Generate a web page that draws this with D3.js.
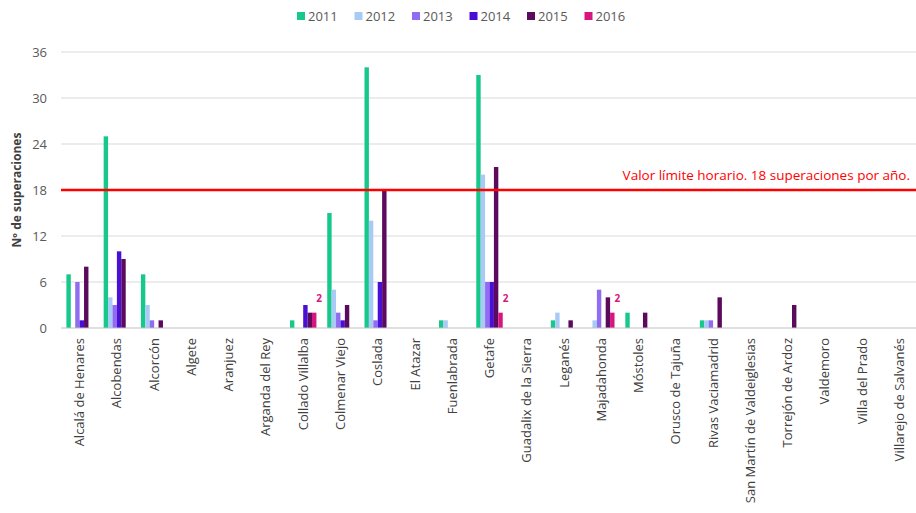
<!DOCTYPE html>
<html lang="es">
<head>
    <meta charset="UTF-8">
    <title>Superaciones valor límite horario</title>
    <script src="https://cdnjs.cloudflare.com/ajax/libs/d3/7.8.5/d3.min.js"></script>
    <style>
    html, body {
        margin: 0;
        background: #fff;
    }
    text {
        font-family: "Open Sans", sans-serif;
    }
    </style>
</head>
<body>
    <div id="chart"></div>
    <script>
    // municipalities on the x axis
    var municipios = ['Alcalá de Henares', 'Alcobendas', 'Alcorcón', 'Algete', 'Aranjuez',
        'Arganda del Rey', 'Collado Villalba', 'Colmenar Viejo', 'Coslada', 'El Atazar',
        'Fuenlabrada', 'Getafe', 'Guadalix de la Sierra', 'Leganés', 'Majadahonda',
        'Móstoles', 'Orusco de Tajuña', 'Rivas Vaciamadrid', 'San Martín de Valdeiglesias',
        'Torrejón de Ardoz', 'Valdemoro', 'Villa del Prado', 'Villarejo de Salvanés'];

    var years = ['2011', '2012', '2013', '2014', '2015', '2016'];
    var colors = ['#16c98a', '#a9c9f6', '#8f6cf2', '#4a0fd4', '#5b0a5e', '#d6157f'];

    // hourly exceedances per year, same order as municipios
    var v2011 = [7, 25, 7, 0, 0, 0, 1, 15, 34, 0, 1, 33, 0, 1, 0, 2, 0, 1, 0, 0, 0, 0, 0];
    var v2012 = [0, 4, 3, 0, 0, 0, 0, 5, 14, 0, 1, 20, 0, 2, 1, 0, 0, 1, 0, 0, 0, 0, 0];
    var v2013 = [6, 3, 1, 0, 0, 0, 0, 2, 1, 0, 0, 6, 0, 0, 5, 0, 0, 1, 0, 0, 0, 0, 0];
    var v2014 = [1, 10, 0, 0, 0, 0, 3, 1, 6, 0, 0, 6, 0, 0, 0, 0, 0, 0, 0, 0, 0, 0, 0];
    var v2015 = [8, 9, 1, 0, 0, 0, 2, 3, 18, 0, 0, 21, 0, 1, 4, 2, 0, 4, 0, 3, 0, 0, 0];
    var v2016 = [0, 0, 0, 0, 0, 0, 2, 0, 0, 0, 0, 2, 0, 0, 2, 0, 0, 0, 0, 0, 0, 0, 0];
    var series = [v2011, v2012, v2013, v2014, v2015, v2016];

    var yTicks = [0, 6, 12, 18, 24, 30, 36];
    var limite = 18;
    var limiteLabel = 'Valor límite horario. 18 superaciones por año.';

    var width = 916, height = 513;
    var margin = { top: 52, right: -2, bottom: 185, left: 61 };

    var svg = d3.select('#chart')
        .append('svg')
            .attr('width', width)
            .attr('height', height);

    var innerW = width - margin.left - margin.right;
    var innerH = height - margin.top - margin.bottom;

    var g = svg.append('g')
        .attr('transform', 'translate(' + margin.left + ',' + margin.top + ')');

    var x0 = d3.scaleBand()
        .domain(municipios)
        .range([0, innerW])
        .paddingInner(0.29)
        .paddingOuter(0.145);

    var x1 = d3.scaleBand()
        .domain(years)
        .range([0, x0.bandwidth()]);

    var y = d3.scaleLinear()
        .domain([0, 36])
        .range([innerH, 0]);

    // gridlines
    g.selectAll('.grid')
        .data(yTicks.slice(1))
        .enter()
        .append('line')
        .attr('class', 'grid')
        .attr('x1', 0)
        .attr('x2', width - margin.left)
        .attr('y1', function(d){ return y(d); })
        .attr('y2', function(d){ return y(d); })
        .attr('stroke', '#d9d9d9')
        .attr('stroke-width', 1);

    // y axis labels
    var yAxis = d3.axisLeft(y)
        .tickValues(yTicks)
        .tickSize(0)
        .tickPadding(14);

    g.append('g')
        .call(yAxis)
        .call(function(s){ s.select('.domain').remove(); })
        .selectAll('text')
            .attr('fill', '#595959')
            .style('font-size', '13px');

    // bars
    var rows = municipios.map(function(m, i){
        return { name: m, vals: series.map(function(s, j){ return { year: years[j], v: s[i], c: colors[j] }; }) };
    });

    var groups = g.selectAll('.grp')
        .data(rows)
        .enter()
        .append('g')
        .attr('class', 'grp')
        .attr('transform', function(d){ return 'translate(' + x0(d.name) + ',0)'; });

    groups.selectAll('rect')
        .data(function(d){ return d.vals.filter(function(e){ return e.v > 0; }); })
        .enter()
        .append('rect')
        .attr('x', function(d){ return x1(d.year); })
        .attr('width', x1.bandwidth())
        .attr('y', function(d){ return y(d.v); })
        .attr('height', function(d){ return innerH - y(d.v); })
        .attr('fill', function(d){ return d.c; });

    // labels for 2016 values
    groups.selectAll('.lbl')
        .data(function(d){ return d.vals.filter(function(e){ return e.year === '2016' && e.v > 0; }); })
        .enter()
        .append('text')
        .attr('class', 'lbl')
        .attr('x', function(d){ return x1(d.year) + x1.bandwidth() / 2 + 5; })
        .attr('y', function(d){ return y(d.v) - 11; })
        .attr('text-anchor', 'middle')
        .attr('fill', '#d6157f')
        .style('font-size', '10px')
        .style('font-weight', 'bold')
        .text(function(d){ return d.v; });

    // x axis baseline
    g.append('line')
        .attr('x1', 0)
        .attr('x2', width - margin.left)
        .attr('y1', innerH)
        .attr('y2', innerH)
        .attr('stroke', '#bfbfbf');

    var xAxis = d3.axisBottom(x0).tickSize(0).tickPadding(0);
    g.append('g')
        .attr('transform', 'translate(0,' + innerH + ')')
        .call(xAxis)
        .call(function(s){ s.select('.domain').remove(); })
        .selectAll('text')
            .attr('transform', 'rotate(-90)')
            .attr('x', -10)
            .attr('y', 0)
            .attr('dy', '0.35em')
            .attr('text-anchor', 'end')
            .attr('fill', '#404040')
            .style('font-size', '13px');

    // limit line
    g.append('line')
        .attr('x1', 0)
        .attr('x2', width - margin.left)
        .attr('y1', y(limite))
        .attr('y2', y(limite))
        .attr('stroke', '#ff0000')
        .attr('stroke-width', 2.5);

    g.append('text')
        .attr('x', width - margin.left - 6)
        .attr('y', y(limite) - 10)
        .attr('text-anchor', 'end')
        .attr('fill', '#ff0000')
        .style('font-size', '13.5px')
        .text(limiteLabel);

    // y title
    svg.append('text')
        .attr('transform', 'translate(21,' + (margin.top + y(18)) + ') rotate(-90)')
        .attr('text-anchor', 'middle')
        .attr('fill', '#404040')
        .style('font-size', '12px')
        .style('font-weight', 'bold')
        .text('Nº de superaciones');

    // legend
    var legend = svg.append('g')
        .attr('transform', 'translate(297,10)');

    var items = legend.selectAll('.leg')
        .data(years)
        .enter()
        .append('g')
        .attr('class', 'leg')
        .attr('transform', function(d, i){ return 'translate(' + (i * 57.5) + ',0)'; });

    items.append('rect')
        .attr('width', 8)
        .attr('height', 8)
        .attr('y', 2)
        .attr('fill', function(d, i){ return colors[i]; });

    items.append('text')
        .attr('x', 11)
        .attr('y', 6)
        .attr('dy', '0.35em')
        .attr('fill', '#595959')
        .style('font-size', '13px')
        .text(function(d){ return d; });
    </script>
</body>
</html>
